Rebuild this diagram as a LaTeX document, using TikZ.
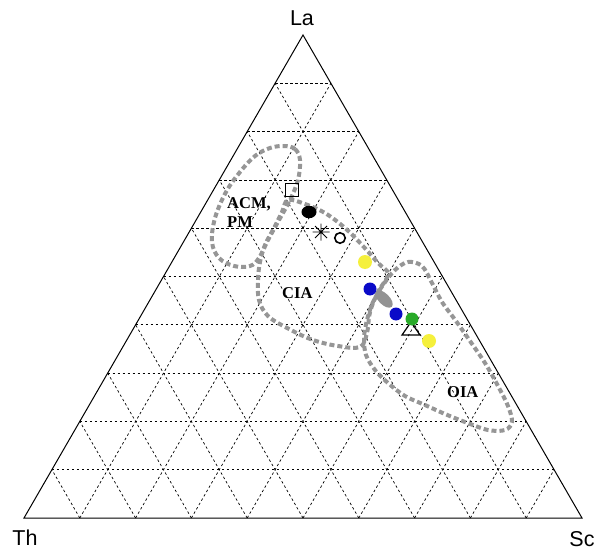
\documentclass[tikz,border=0pt]{standalone}
\usepackage{fontspec}
\setmainfont{Liberation Sans}
\newfontfamily\labfont{Liberation Serif}
\usetikzlibrary{calc,shapes.geometric}
\definecolor{yel}{RGB}{245,240,60}
\definecolor{blu}{RGB}{10,10,200}
\definecolor{grn}{RGB}{40,170,40}
\definecolor{fieldgray}{RGB}{150,150,150}
\begin{document}
\begin{tikzpicture}[x=1pt,y=-1pt,
  gridline/.style={black, line width=0.7pt, dash pattern=on 2.5pt off 2.5pt},
  field/.style={fieldgray, line width=4pt, dash pattern=on 5pt off 3pt},
  corner/.style={font=\fontsize{21.5}{22}\selectfont, inner sep=0pt},
  flab/.style={font=\labfont\bfseries\fontsize{16.5}{18}\selectfont, inner sep=0pt, anchor=base west},
  dot/.style={circle, inner sep=0pt, minimum size=#1},
]
\useasboundingbox[fill=white] (0,0) rectangle (598,551);
\coordinate (Th) at (24,518);
\coordinate (Sc) at (582,518);
\coordinate (La) at (303,35);

% grid
\foreach \i in {1,...,9} {
  \pgfmathsetmacro\k{\i/10}
  \draw[gridline] ($(Th)!\k!(La)$) -- ($(Sc)!\k!(La)$);
  \draw[gridline] ($(Th)!\k!(Sc)$) -- ($(La)!\k!(Sc)$);
  \draw[gridline] ($(Th)!\k!(Sc)$) -- ($(Th)!\k!(La)$);
}
\draw[line width=1pt] (Th) -- (Sc) -- (La) -- cycle;

% fields
\draw[field] plot[smooth cycle, tension=0.6] coordinates {
  (300,160) (295,149) (284,146) (270,148) (255,156) (240,172) (226,192)
  (215,218) (212,242) (219,258) (234,266) (250,266) (259,258) (268,240)
  (279,220) (290,200) (298,180)};
\draw[field] plot[smooth cycle, tension=0.6] coordinates {
  (288,200) (305,204) (325,213) (345,228) (362,245) (378,263) (388,274)
  (378,292) (370,312) (367,333) (360,347) (338,346) (313,340) (289,329)
  (268,316) (259,300) (258,280) (260,262) (265,245) (274,228) (282,212)};
\draw[field] plot[smooth cycle, tension=0.55] coordinates {
  (395,270) (408,262) (422,266) (432,283) (442,302) (456,321) (470,341)
  (485,363) (498,386) (508,406) (512,422) (505,430) (488,430) (465,422)
  (445,414) (425,405) (405,396) (388,383) (375,370) (366,355) (364,338)
  (367,320) (373,302) (383,285)};

% corner labels
\node[corner] (laL) at (302,18) {La};
\node[corner] (thL) at (25,538) {Th};
\node[corner] (scL) at (582,539) {Sc};

% field labels
\node[flab] (acm) at (227,208) {ACM,};
\node[flab] (pm) at (227,227) {PM};
\node[flab] (cia) at (282,298) {CIA};
\node[flab] (oia) at (447,397) {OIA};

% data
\node[draw, line width=1.1pt, minimum size=13pt, inner sep=0pt] (sq) at (292,190) {};
\node[fill=black, ellipse, minimum width=15pt, minimum height=12.5pt, inner sep=0pt] (blk) at (309,212) {};
\coordinate (ast) at (321,232);
\draw[line width=0.9pt] ($(ast)+(-8.5,0)$) -- ($(ast)+(8.5,0)$)
  ($(ast)+(0,-8.5)$) -- ($(ast)+(0,8.5)$)
  ($(ast)+(-6,-6)$) -- ($(ast)+(6,6)$)
  ($(ast)+(-6,6)$) -- ($(ast)+(6,-6)$);
\node[circle, draw, line width=1.6pt, minimum size=10.5pt, inner sep=0pt] (oc) at (340,238) {};
\node[dot=14pt, fill=yel] (y1) at (365,262) {};
\node[ellipse, fill=gray!85, minimum width=22pt, minimum height=11pt, inner sep=0pt, rotate=-45] (gb) at (384,299) {};
\node[dot=13pt, fill=blu] (b1) at (370,289) {};
\node[dot=13pt, fill=blu] (b2) at (396,314) {};
\coordinate (tri) at (411,330);
\draw[line width=1.2pt] ($(tri)+(-9,5)$) -- ($(tri)+(9,5)$) -- ($(tri)+(0,-8)$) -- cycle;
\node[dot=13pt, fill=grn] (g1) at (412,319) {};
\node[dot=14pt, fill=yel] (y2) at (429,341) {};
\end{tikzpicture}
\end{document}
